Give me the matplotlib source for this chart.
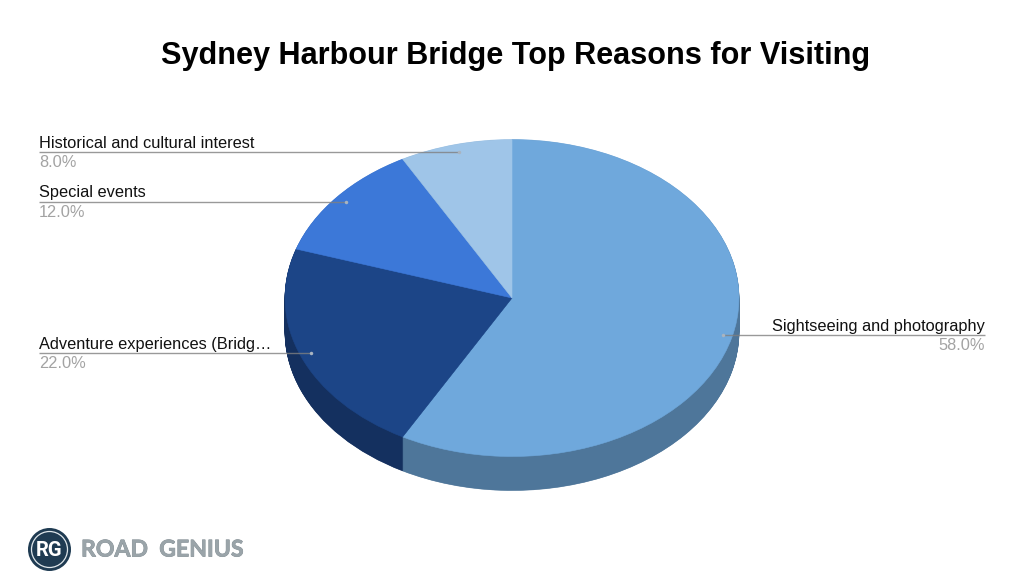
import matplotlib
matplotlib.use("Agg")
import matplotlib.pyplot as plt
from matplotlib.patches import Circle
import matplotlib.patheffects as pe

plt.rcParams['font.family'] = ['Liberation Sans', 'DejaVu Sans']

title = "Sydney Harbour Bridge Top Reasons for Visiting"
categories = ["Sightseeing and photography", "Adventure experiences (Bridg…", "Special events", "Historical and cultural interest"]
values = [58.0, 22.0, 12.0, 8.0]
pct_labels = ["58.0%", "22.0%", "12.0%", "8.0%"]
top_colors = ["#6fa8dc", "#1c4587", "#3c78d8", "#9fc5e8"]
side_colors = ["#4e769a", "#14305f", "#2a5497", "#6f8aa2"]

W, H = 1024, 582
fig = plt.figure(figsize=(W / 100, H / 100), dpi=100, facecolor="white")

# pie geometry in pixels
cx, cy, rx, ry, depth = 512, 298, 227, 158.5, 34
x0, x1 = cx - 1.05 * rx, cx + 1.05 * rx
ybot_px, ytop_px = cy + ry + depth + 10, cy - ry - 10
ax = fig.add_axes([x0 / W, 1 - ybot_px / H, (x1 - x0) / W, (ybot_px - ytop_px) / H])

n = depth * 2
for i in range(n, 0, -1):
    off = -depth * i / n / ry
    ax.pie(values, colors=side_colors, startangle=90, counterclock=False,
           center=(0, off), radius=1,
           wedgeprops=dict(linewidth=0.4, edgecolor=None), normalize=True)
    for w, c in zip(ax.patches[-len(values):], side_colors):
        w.set_edgecolor(c)
ax.pie(values, colors=top_colors, startangle=90, counterclock=False, center=(0, 0), radius=1,
       wedgeprops=dict(linewidth=0.4))
for w, c in zip(ax.patches[-len(values):], top_colors):
    w.set_edgecolor(c)
ax.set_aspect("auto")
ax.set_xlim(-1.05, 1.05)
ax.set_ylim(-(ry + depth + 10) / ry, (ry + 10) / ry)
ax.axis("off")

# overlay in pixel coordinates
ov = fig.add_axes([0, 0, 1, 1], facecolor="none")
ov.set_xlim(0, W)
ov.set_ylim(H, 0)
ov.axis("off")

ov.text(516, 56, title, fontsize=22.1, fontweight="bold", color="#000000", ha="center", va="center")

# leader lines: (line start, line end, y, text anchor x, alignment)
leaders = [
    (723, 985, 335, 985, "right"),
    (39, 311, 353, 39, "left"),
    (39, 346, 202, 39, "left"),
    (39, 459, 152, 39, "left"),
]
for (xa, xb, y, tx, ha), name, pct in zip(leaders, categories, pct_labels):
    ov.plot([xa, xb], [y, y], color="#808080", lw=1.0, alpha=0.8, solid_capstyle="butt")
    dot_x = xa if ha == "right" else xb
    ov.plot([dot_x], [y], "o", ms=2.5, color="#a9b4c0", mew=0)
    ov.text(tx, y - 1.5, name, fontsize=11.8, color="#111111", ha=ha, va="bottom")
    ov.text(tx, y + 3, pct, fontsize=11.8, color="#a3a3a3", ha=ha, va="top")

# logo
ov.add_patch(Circle((49.5, 549.5), 21.5, facecolor="#1f3b52", edgecolor="none"))
ov.add_patch(Circle((49.5, 549.5), 18, facecolor="none", edgecolor="#dfe6ea", lw=0.9))
ov.text(49.5, 550, "RG", fontsize=14.5, fontweight="bold", color="white", ha="center", va="center",
        family=["Roboto", "DejaVu Sans"])
ov.text(81, 550, "ROAD  GENIUS", fontsize=16.6, fontweight="bold", color="#9aa4a9",
        ha="left", va="center", family=["Lato", "DejaVu Sans"],
        path_effects=[pe.withStroke(linewidth=0.5, foreground="#7d888e")])

fig.savefig("out.png", dpi=100, facecolor="white")
